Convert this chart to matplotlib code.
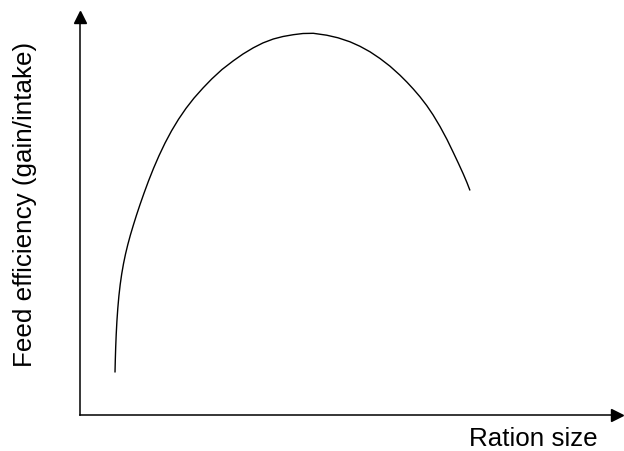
import matplotlib
matplotlib.use("Agg")
import matplotlib.pyplot as plt

# Curve (arbitrary units: ration size vs feed efficiency)
ration_size = [3.50, 3.53, 3.57, 3.62, 3.69, 3.78, 3.89, 4.02, 4.17, 4.35,
               4.55, 4.78, 5.04, 5.33, 5.65, 6.00, 6.40, 6.85, 7.35, 7.90,
               8.50, 9.15, 9.85, 10.60, 11.40, 12.30, 13.17, 14.20, 15.33, 16.30,
               17.33, 18.30, 19.33, 20.30, 21.33, 22.30, 23.33, 24.67, 25.80, 27.00,
               28.00, 29.00, 30.00, 31.00, 32.00, 32.70, 33.33, 34.00, 34.67, 35.30,
               36.00, 36.70, 37.33, 37.85, 38.33, 38.70, 39.00]
feed_efficiency = [4.25, 5.51, 6.79, 8.04, 9.37, 10.67, 11.91, 13.05, 14.10, 15.13,
                   16.09, 17.04, 18.00, 18.97, 19.99, 21.04, 22.18, 23.40, 24.66, 25.93,
                   27.19, 28.41, 29.57, 30.665, 31.69, 32.70, 33.60, 34.55, 35.42, 36.10,
                   36.72, 37.21, 37.60, 37.85, 38.03, 38.15, 38.17, 37.98, 37.72, 37.32,
                   36.87, 36.32, 35.65, 34.88, 33.98, 33.28, 32.60, 31.82, 30.95, 30.02,
                   28.85, 27.55, 26.25, 25.15, 24.10, 23.23, 22.45]

x_label = "Ration size"
y_label = "Feed efficiency (gain/intake)"

W, H = 624, 452
fig = plt.figure(figsize=(W / 100, H / 100), dpi=100)
fig.patch.set_facecolor("white")

left, right, bottom, top = 80, 617, 416, 18
ax = fig.add_axes([left / W, (H - bottom) / H, (right - left) / W, (bottom - top) / H])
ax.set_xlim(0, (right - left) / 10)
ax.set_ylim(0, (bottom - top) / 10)

ax.plot(ration_size, feed_efficiency, color="black", lw=1.0,
        solid_capstyle="butt", solid_joinstyle="round")

for s in ["top", "right"]:
    ax.spines[s].set_visible(False)
for s in ["left", "bottom"]:
    ax.spines[s].set_linewidth(1.1)
    ax.spines[s].set_color("black")
ax.set_xticks([])
ax.set_yticks([])

ax.plot(1, 0, marker=">", color="black", ms=9, transform=ax.transAxes, clip_on=False)
ax.plot(0, 1, marker="^", color="black", ms=9, transform=ax.transAxes, clip_on=False)

font = "Liberation Sans"
fig.text(25 / W, 1 - 204 / H, y_label, rotation=90, ha="center", va="center",
         fontsize=18.7, family=font)
fig.text(533 / W, 1 - 446 / H, x_label, ha="center", va="baseline",
         fontsize=18.7, family=font)

fig.savefig("out.png", dpi=100, facecolor="white")
